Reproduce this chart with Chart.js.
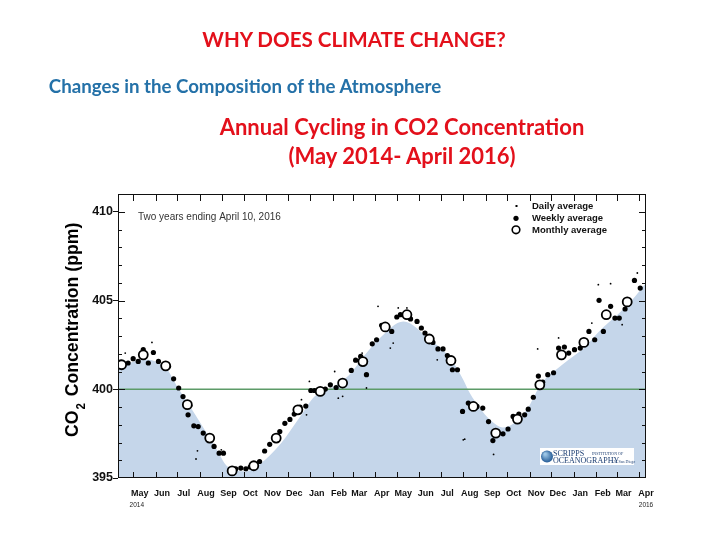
<!DOCTYPE html>
<html>
<head>
<meta charset="utf-8">
<script src="https://cdn.jsdelivr.net/npm/chart.js@4.4.1/dist/chart.umd.min.js"></script>
<style>
  html, body { margin: 0; padding: 0; background: #fff; }
  #slide { position: relative; width: 720px; height: 540px; overflow: hidden; }
  #co2Chart { position: absolute; left: 0; top: 0; }
  .txt { position: absolute; white-space: nowrap; font-family: Lato, "Open Sans", sans-serif; font-weight: bold; line-height: 1; transform: translateX(-50%); }
</style>
</head>
<body>
<div id="slide">
  <canvas id="co2Chart" width="720" height="540"></canvas>
  <div class="txt" style="left:354px; top:29px; font-size:20.6px; color:#e3101b;">WHY DOES CLIMATE CHANGE?</div>
  <div class="txt" style="left:245px; top:77px; font-size:18.7px; color:#2471a8;">Changes in the Composition of the Atmosphere</div>
  <div class="txt" style="left:402px; top:116px; font-size:22px; color:#e3101b;">Annual Cycling in CO2 Concentration</div>
  <div class="txt" style="left:402px; top:145px; font-size:22px; color:#e3101b;">(May 2014- April 2016)</div>
</div>
<script>
// x axis = days after 10 April 2014 (window ends 10 April 2016)
const monthLabels = ['May', 'Jun', 'Jul', 'Aug', 'Sep', 'Oct', 'Nov', 'Dec', 'Jan', 'Feb', 'Mar', 'Apr',
                     'May', 'Jun', 'Jul', 'Aug', 'Sep', 'Oct', 'Nov', 'Dec', 'Jan', 'Feb', 'Mar', 'Apr'];
const yearLabels = ['2014', '2016'];
const yTickLabels = [395, 400, 405, 410];

// monthly averages, Apr 2014 .. Mar 2016
const monthlyPpm = [401.38, 401.94, 401.32, 399.13, 397.25, 395.40, 395.69, 397.25, 398.84, 399.88, 400.35, 401.56,
                    403.51, 404.20, 402.83, 401.62, 399.03, 397.53, 398.32, 400.25, 401.94, 402.64, 404.20, 404.92];

// weekly averages
const weeklyDay = [14, 21, 28, 35, 42, 49, 56, 63, 70, 77, 84, 90, 97, 105, 111, 118, 125, 133, 140, 146,
                   157, 163, 170, 177, 183, 196, 203, 210, 217, 224, 231, 238, 244, 252, 260, 267, 272, 279, 287, 294,
                   302, 310, 323, 329, 336, 344, 352, 358, 365, 371, 379, 386, 391, 399, 405, 414, 420, 425, 436, 443,
                   450, 456, 463, 470, 477, 485, 490, 497, 505, 513, 519, 525, 533, 540, 547, 555, 563, 568, 575, 582,
                   588, 595, 603, 610, 618, 624, 632, 640, 646, 652, 660, 666, 672, 682, 688, 694, 702, 708, 715, 723];
const weeklyPpm = [401.48, 401.72, 401.57, 402.23, 401.48, 402.07, 401.57, 401.38, 401.29, 400.59, 400.07, 399.59, 398.56, 397.94, 397.90, 397.53, 397.25, 396.78, 396.40, 396.40,
                   395.45, 395.52, 395.56, 395.52, 395.62, 395.93, 396.52, 396.90, 397.20, 397.62, 398.08, 398.30, 398.60, 399.00, 399.05, 399.93, 399.93, 399.85, 400.01, 400.25,
                   400.10, 400.40, 401.06, 401.64, 401.85, 400.82, 402.56, 402.79, 403.60, 403.40, 403.26, 404.07, 404.20, 404.30, 403.96, 403.82, 403.45, 403.17, 402.64, 402.27,
                   402.27, 401.90, 401.10, 401.10, 398.75, 399.22, 399.10, 399.03, 398.94, 398.18, 397.11, 397.60, 397.49, 397.76, 398.47, 398.60, 398.56, 398.88, 399.55, 400.74,
                   400.40, 400.82, 400.93, 402.32, 402.38, 402.04, 402.23, 402.32, 402.70, 403.26, 402.79, 405.01, 403.26, 404.67, 404.01, 404.01, 404.52, 404.90, 406.13, 405.70];

// scattered daily averages
const dailyDay = [0, 10, 47, 102, 108, 110, 143, 254, 261, 265, 300, 305, 311, 338, 344, 360, 377, 381, 388, 400,
                  442, 478, 480, 520, 581, 610, 656, 665, 682, 698, 719];
const dailyPpm = [402.04, 402.04, 402.64, 399.07, 396.07, 396.53, 396.59, 399.41, 398.56, 400.44, 401.00, 399.50, 399.60, 402.04, 400.07, 404.67, 402.32, 402.60, 404.58, 404.58,
                  401.66, 397.15, 397.19, 396.33, 402.27, 402.89, 403.73, 405.89, 405.95, 403.64, 406.55];

// smooth shaded curve
const shadeDay = [0, 17, 42, 58, 65, 83, 107, 134, 152, 176, 197, 226, 252, 272, 295, 319, 342, 363, 395, 432,
                  460, 478, 487, 501, 515, 533, 552, 566, 575, 584, 615, 645, 666, 694, 712, 731];
const shadePpm = [401.10, 401.50, 401.66, 401.45, 401.29, 400.08, 398.56, 396.79, 395.63, 395.37, 395.80, 396.97, 398.45, 399.59, 400.07, 400.76, 401.94, 402.90, 403.82, 402.79,
                  401.76, 400.54, 399.79, 398.94, 398.28, 397.85, 398.20, 398.84, 399.50, 400.20, 401.38, 402.32, 403.26, 404.29, 405.04, 405.98];

const referencePpm = 400;

const DAY = 86400000;
const start = Date.UTC(2014, 3, 10);
const windowDays = (Date.UTC(2016, 3, 10) - start) / DAY;
const dayOf = (y, m, d) => (Date.UTC(y, m, d) - start) / DAY;

const labelDays = monthLabels.map((_, i) => dayOf(2014, 4 + i, 10));
const monthStartDays = monthLabels.map((_, i) => dayOf(2014, 4 + i, 1));
const monthlyDay = monthlyPpm.map((_, i) => dayOf(2014, 3 + i, 15));
const yearDays = [26, windowDays];

const pts = (xs, ys) => xs.map((x, i) => ({ x: x, y: ys[i] }));

const axisFont = '"Liberation Sans", Arial, Helvetica, sans-serif';

const decor = {
  id: 'decor',
  afterDraw(chart) {
    const { ctx, chartArea: a, scales } = chart;
    const x = scales.x, y = scales.y;
    ctx.save();
    ctx.strokeStyle = '#111';
    ctx.lineWidth = 1;
    ctx.strokeRect(a.left + 0.5, a.top + 0.5, a.right - a.left - 1, a.bottom - a.top - 1);

    // inward tick marks
    ctx.beginPath();
    monthStartDays.forEach(d => {
      const px = Math.round(x.getPixelForValue(d)) + 0.5;
      ctx.moveTo(px, a.top); ctx.lineTo(px, a.top + 7);
      ctx.moveTo(px, a.bottom); ctx.lineTo(px, a.bottom - 6);
    });
    for (let v = 396; v <= 410; v++) {
      const py = Math.round(y.getPixelForValue(v)) + 0.5;
      const len = v % 5 === 0 ? 7 : 4;
      ctx.moveTo(a.left, py); ctx.lineTo(a.left + len, py);
      ctx.moveTo(a.right, py); ctx.lineTo(a.right - len, py);
    }
    ctx.stroke();

    // note
    ctx.fillStyle = '#333';
    ctx.font = '10px ' + axisFont;
    ctx.textBaseline = 'middle';
    ctx.fillText('Two years ending April 10, 2016', 138, 217);

    // legend
    ctx.fillStyle = '#000';
    ctx.fillRect(515.5, 205, 2, 2);
    ctx.beginPath(); ctx.arc(516, 218.3, 2.6, 0, Math.PI * 2); ctx.fill();
    ctx.beginPath(); ctx.arc(516, 229.8, 3.8, 0, Math.PI * 2);
    ctx.fillStyle = '#fff'; ctx.fill();
    ctx.lineWidth = 1.6; ctx.strokeStyle = '#000'; ctx.stroke();
    ctx.fillStyle = '#111';
    ctx.font = 'bold 9.5px ' + axisFont;
    ctx.fillText('Daily average', 532, 206);
    ctx.fillText('Weekly average', 532, 218.5);
    ctx.fillText('Monthly average', 532, 230.5);

    // Scripps logo
    ctx.fillStyle = '#fff';
    ctx.fillRect(540, 448, 94, 17);
    const g = ctx.createRadialGradient(545, 454, 1, 547, 456.5, 6.5);
    g.addColorStop(0, '#9cc6e6');
    g.addColorStop(1, '#1d5592');
    ctx.fillStyle = g;
    ctx.beginPath(); ctx.arc(547, 456.5, 6, 0, Math.PI * 2); ctx.fill();
    ctx.fillStyle = '#1d3f73';
    ctx.textBaseline = 'alphabetic';
    ctx.font = '8px "Liberation Serif", "DejaVu Serif", serif';
    ctx.fillText('SCRIPPS', 553, 455.5);
    ctx.fillText('OCEANOGRAPHY', 553, 463);
    ctx.font = '4px "Liberation Serif", serif';
    ctx.fillText('INSTITUTION OF', 592, 454.5);
    ctx.fillText('UC San Diego', 612, 462.5);

    // y axis title with subscript (slightly condensed like the original)
    ctx.fillStyle = '#000';
    ctx.translate(78, 437);
    ctx.rotate(-Math.PI / 2);
    ctx.scale(0.955, 1);
    ctx.font = 'bold 18.5px ' + axisFont;
    ctx.fillText('CO', 0, 0);
    let w = ctx.measureText('CO').width + 1;
    ctx.font = 'bold 12px ' + axisFont;
    ctx.fillText('2', w, 7);
    w += ctx.measureText('2').width + 2;
    ctx.font = 'bold 18.5px ' + axisFont;
    ctx.fillText(' Concentration (ppm)', w, 0);
    ctx.restore();
  }
};

new Chart(document.getElementById('co2Chart'), {
  type: 'scatter',
  data: {
    datasets: [
      {
        label: 'Monthly average',
        data: pts(monthlyDay, monthlyPpm),
        pointRadius: 4.5,
        pointBorderWidth: 1.8,
        pointBorderColor: '#000',
        pointBackgroundColor: '#fff',
        order: 0
      },
      {
        label: 'Weekly average',
        data: pts(weeklyDay, weeklyPpm),
        pointRadius: 2.6,
        pointBorderWidth: 0,
        pointBackgroundColor: '#000',
        order: 1
      },
      {
        label: 'Daily average',
        data: pts(dailyDay, dailyPpm),
        pointRadius: 0.9,
        pointBorderWidth: 0,
        pointBackgroundColor: '#000',
        order: 2
      },
      {
        type: 'line',
        label: '400 ppm',
        data: [{ x: 0, y: referencePpm }, { x: windowDays, y: referencePpm }],
        borderColor: '#5d9b68',
        borderWidth: 1.5,
        pointRadius: 0,
        order: 3
      },
      {
        type: 'line',
        label: 'Trend',
        data: pts(shadeDay, shadePpm),
        borderWidth: 0,
        pointRadius: 0,
        cubicInterpolationMode: 'monotone',
        fill: 'start',
        backgroundColor: '#c5d6ea',
        order: 4
      }
    ]
  },
  options: {
    responsive: false,
    animation: false,
    layout: { padding: { left: 60, right: 74, top: 194, bottom: 30 } },
    plugins: {
      legend: { display: false },
      tooltip: { enabled: false }
    },
    scales: {
      x: {
        type: 'linear',
        min: 0,
        max: windowDays,
        position: 'bottom',
        afterBuildTicks: s => { s.ticks = labelDays.map(v => ({ value: v })); },
        afterFit: s => { s.height = 20; },
        grid: { display: false, drawTicks: false },
        border: { display: false },
        ticks: {
          autoSkip: false,
          maxRotation: 0,
          minRotation: 0,
          padding: 10,
          color: '#111',
          font: { family: axisFont, size: 9, weight: 'bold' },
          callback: (v, i) => monthLabels[i]
        }
      },
      x2: {
        type: 'linear',
        min: 0,
        max: windowDays,
        position: 'bottom',
        afterBuildTicks: s => { s.ticks = yearDays.map(v => ({ value: v })); },
        afterFit: s => { s.height = 12; },
        grid: { display: false, drawTicks: false },
        border: { display: false },
        ticks: {
          autoSkip: false,
          maxRotation: 0,
          padding: 3,
          color: '#222',
          font: { family: axisFont, size: 6.5 },
          callback: (v, i) => yearLabels[i]
        }
      },
      y: {
        min: 395,
        max: 411,
        afterFit: s => { s.width = 58; },
        border: { display: false },
        grid: {
          drawOnChartArea: false,
          tickLength: 5,
          tickColor: c => yTickLabels.includes(c.tick.value) ? '#111' : 'transparent'
        },
        ticks: {
          stepSize: 1,
          autoSkip: false,
          padding: 0,
          color: '#111',
          font: { family: axisFont, size: 12.5, weight: 'bold' },
          callback: v => yTickLabels.includes(v) ? String(v) : ''
        }
      }
    }
  },
  plugins: [decor]
});
</script>
</body>
</html>
